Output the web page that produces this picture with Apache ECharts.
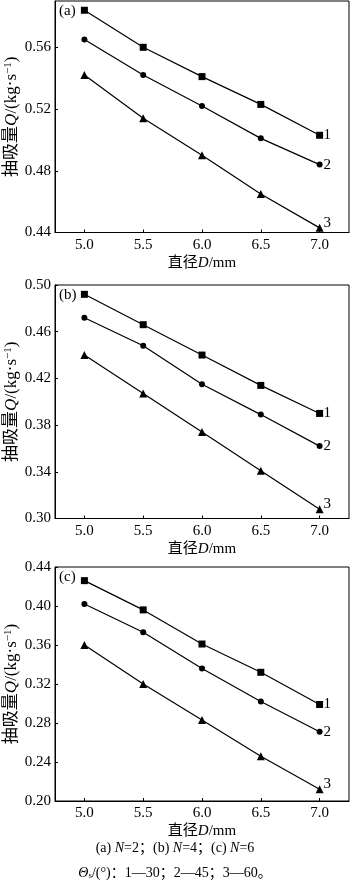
<!DOCTYPE html>
<html><head><meta charset="utf-8">
<script src="https://cdn.jsdelivr.net/npm/echarts@6/dist/echarts.min.js"></script>
<style>html,body{margin:0;padding:0;background:#fff}#c{width:350px;height:888px}</style>
</head><body><div id="c"></div>
<script>
const diameters = [5.0, 5.5, 6.0, 6.5, 7.0];
const xTicks = [5.0, 5.5, 6.0, 6.5, 7.0];
// Panel (a) N=2
const a1 = [0.584, 0.560, 0.541, 0.523, 0.503];
const a2 = [0.565, 0.542, 0.522, 0.501, 0.484];
const a3 = [0.542, 0.514, 0.490, 0.465, 0.443];
// Panel (b) N=4
const b1 = [0.492, 0.466, 0.440, 0.414, 0.390];
const b2 = [0.472, 0.448, 0.415, 0.389, 0.362];
const b3 = [0.440, 0.407, 0.374, 0.341, 0.308];
// Panel (c) N=6
const c1 = [0.426, 0.396, 0.361, 0.332, 0.299];
const c2 = [0.402, 0.373, 0.336, 0.302, 0.271];
const c3 = [0.360, 0.320, 0.283, 0.246, 0.212];
const seriesNames = ['1', '2', '3'];
const panelTags = ['(a)', '(b)', '(c)'];
const yRanges = [[0.44, 0.59], [0.30, 0.50], [0.20, 0.44]];

const FONT = "'Liberation Serif', 'Times New Roman', 'Noto Sans CJK SC', serif";
const grids = [
  {left: 55, right: 1, top: 1, height: 231.5},
  {left: 55, right: 1, top: 285, height: 233.5},
  {left: 55, right: 1, top: 567, height: 234}
];
const panels = [[a1, a2, a3], [b1, b2, b3], [c1, c2, c3]];
const symbols = ['rect', 'circle', 'triangle'];
const symbolSizes = [7, 6, 8];

const xAxes = [], yAxes = [], series = [], graphics = [];
grids.forEach((g, i) => {
  g.show = true; g.borderColor = '#000'; g.borderWidth = 1; g.backgroundColor = 'transparent';
  g.containLabel = false; g.outerBoundsMode = 'none';
  xAxes.push({
    type: 'value', gridIndex: i, min: 4.75, max: 7.25, interval: 0.25,
    name: '直径{i|D}/mm', nameLocation: 'middle', nameGap: 23, nameMoveOverlap: false,
    nameTextStyle: {color: '#000', fontFamily: FONT, fontSize: 15,
      rich: {i: {fontStyle: 'italic', fontFamily: FONT, fontSize: 15, color: '#000'}}},
    axisLine: {lineStyle: {color: '#000', width: 1}},
    axisTick: {show: true, inside: true, length: 3, lineStyle: {color: '#000'}, customValues: xTicks},
    axisLabel: {color: '#000', fontFamily: FONT, fontSize: 15, margin: 5, customValues: xTicks,
      formatter: v => (Math.abs(v * 2 - Math.round(v * 2)) < 1e-6) ? Number(v).toFixed(1) : ''},
    splitLine: {show: false}
  });
  yAxes.push({
    type: 'value', gridIndex: i, min: yRanges[i][0], max: yRanges[i][1], interval: 0.04,
    name: '抽吸量{i|Q}/(kg·s{sup|−1})', nameLocation: 'middle', nameGap: 35, nameRotate: 90,
    nameMoveOverlap: false,
    nameTextStyle: {color: '#000', fontFamily: FONT, fontSize: 17,
      rich: {i: {fontStyle: 'italic', fontFamily: FONT, fontSize: 17, color: '#000'},
             sup: {fontFamily: FONT, fontSize: 11, color: '#000', verticalAlign: 'top'}}},
    axisLine: {lineStyle: {color: '#000', width: 1}},
    axisTick: {show: true, inside: true, length: 3, lineStyle: {color: '#000'}},
    axisLabel: {color: '#000', fontFamily: FONT, fontSize: 15, margin: 4, showMaxLabel: i !== 0,
      formatter: v => Number(v).toFixed(2)},
    splitLine: {show: false}
  });
  panels[i].forEach((vals, k) => {
    series.push({
      type: 'line', xAxisIndex: i, yAxisIndex: i, name: seriesNames[k],
      data: diameters.map((d, j) => [d, vals[j]]),
      symbol: symbols[k], symbolSize: symbolSizes[k], showAllSymbol: true,
      lineStyle: {color: '#000', width: 1.2}, itemStyle: {color: '#000'},
      animation: false, silent: true,
      endLabel: {show: true, formatter: seriesNames[k], color: '#000', fontFamily: FONT, fontSize: 15,
        distance: 4, offset: k === 2 ? [0, -5] : [0, 0]}
    });
  });
  graphics.push({type: 'text', left: 59, top: g.top + 3,
    style: {text: panelTags[i], fill: '#000', font: '15px ' + FONT}});
});
graphics.push({type: 'text', left: 'center', top: 841,
  style: {text: '(a) {i|N}=2；(b) {i|N}=4；(c) {i|N}=6', fill: '#000', font: '14px ' + FONT,
    rich: {i: {fontStyle: 'italic', fontFamily: FONT, fontSize: 14, fill: '#000'}}}});
graphics.push({type: 'text', left: 'center', top: 866,
  style: {text: '{i|Θ}{sub|s}/(°)：1—30；2—45；3—60。', fill: '#000', font: '14px ' + FONT,
    rich: {i: {fontStyle: 'italic', fontFamily: FONT, fontSize: 14, fill: '#000'},
           sub: {fontFamily: FONT, fontSize: 9, fill: '#000', verticalAlign: 'bottom'}}}});

const chart = echarts.init(document.getElementById('c'), null, {renderer: 'canvas'});
chart.setOption({
  animation: false, backgroundColor: '#fff',
  grid: grids, xAxis: xAxes, yAxis: yAxes, series: series, graphic: graphics
});
</script></body></html>
